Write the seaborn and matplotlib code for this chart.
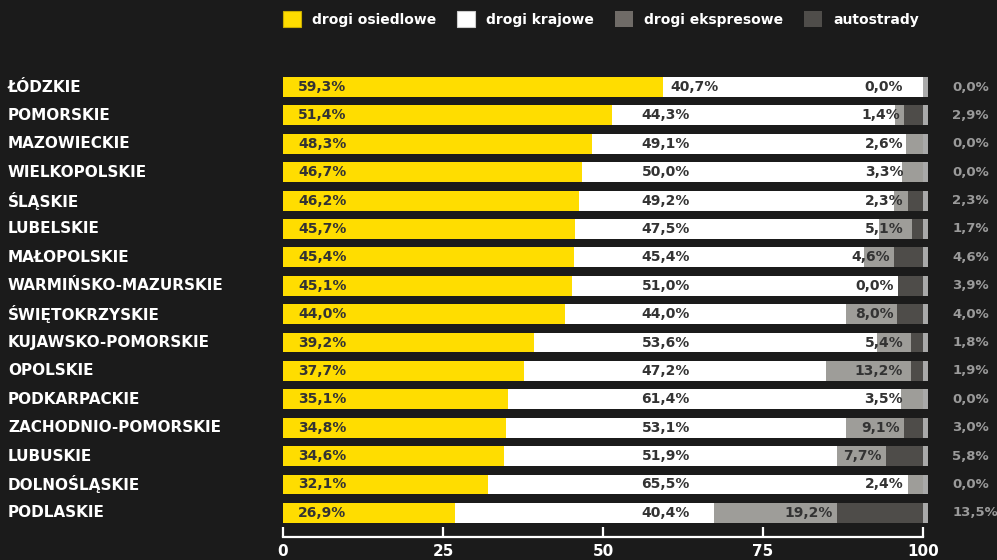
import numpy as np
import pandas as pd
import matplotlib
matplotlib.use("Agg")
import matplotlib.pyplot as plt
import matplotlib.transforms as mtransforms
from matplotlib.patches import Patch
import seaborn as sns

# dane
regions = ["ŁÓDZKIE", "POMORSKIE", "MAZOWIECKIE", "WIELKOPOLSKIE", "ŚLĄSKIE",
           "LUBELSKIE", "MAŁOPOLSKIE", "WARMIŃSKO-MAZURSKIE", "ŚWIĘTOKRZYSKIE",
           "KUJAWSKO-POMORSKIE", "OPOLSKIE", "PODKARPACKIE", "ZACHODNIO-POMORSKIE",
           "LUBUSKIE", "DOLNOŚLĄSKIE", "PODLASKIE"]
osiedlowe = [59.3, 51.4, 48.3, 46.7, 46.2, 45.7, 45.4, 45.1, 44.0, 39.2, 37.7, 35.1, 34.8, 34.6, 32.1, 26.9]
krajowe = [40.7, 44.3, 49.1, 50.0, 49.2, 47.5, 45.4, 51.0, 44.0, 53.6, 47.2, 61.4, 53.1, 51.9, 65.5, 40.4]
ekspresowe = [0.0, 1.4, 2.6, 3.3, 2.3, 5.1, 4.6, 0.0, 8.0, 5.4, 13.2, 3.5, 9.1, 7.7, 2.4, 19.2]
autostrady = [0.0, 2.9, 0.0, 0.0, 2.3, 1.7, 4.6, 3.9, 4.0, 1.8, 1.9, 0.0, 3.0, 5.8, 0.0, 13.5]
series_names = ["drogi osiedlowe", "drogi krajowe", "drogi ekspresowe", "autostrady"]
xticks = [0, 25, 50, 75, 100]

BG = "#1b1b1b"
YELLOW = "#ffdd00"
WHITE = "#ffffff"
EXPR = "#9e9d99"
AUTO = "#4e4c49"
CAP = "#a9a9a9"
DARK = "#333333"

df = pd.DataFrame({"region": regions, "osiedlowe": osiedlowe, "krajowe": krajowe,
                   "ekspresowe": ekspresowe, "autostrady": autostrady})
df["c1"] = df["osiedlowe"]
df["c2"] = df["c1"] + df["krajowe"]
df["c3"] = df["c2"] + df["ekspresowe"]
df["c4"] = df["c3"] + df["autostrady"]

plt.rcParams["font.family"] = ["DejaVu Sans"]
fig = plt.figure(figsize=(9.97, 5.6), dpi=100, facecolor=BG)
ax = fig.add_axes([283 / 997, 23 / 560, 640 / 997, 467 / 560])
ax.set_facecolor(BG)

bw = 0.70
# warstwy od najdłuższej (skumulowane)
sns.barplot(data=df, x=df["c4"] + 0.8, y="region", orient="h", color=CAP, width=bw, saturation=1, ax=ax)
sns.barplot(data=df, x="c4", y="region", orient="h", color=AUTO, width=bw, saturation=1, ax=ax)
sns.barplot(data=df, x="c3", y="region", orient="h", color=EXPR, width=bw, saturation=1, ax=ax)
sns.barplot(data=df, x="c2", y="region", orient="h", color=WHITE, width=bw, saturation=1, ax=ax)
sns.barplot(data=df, x="c1", y="region", orient="h", color=YELLOW, width=bw, saturation=1, ax=ax)
for p in ax.patches:
    p.set_clip_on(False)

ax.set_xlim(0, 100)
ax.set_ylim(15.85, -0.6)
ax.set_xlabel("")
ax.set_ylabel("")
ax.set_yticks([])
for s in ["top", "right", "left"]:
    ax.spines[s].set_visible(False)
ax.spines["bottom"].set_color("white")
ax.spines["bottom"].set_linewidth(1.6)
ax.spines["bottom"].set_bounds(0, 100)
ax.set_xticks(xticks)
ax.tick_params(axis="x", direction="in", length=7, width=1.6, colors="white", pad=5,
               labelsize=11)
for t in ax.get_xticklabels():
    t.set_fontweight("bold")

fmt = lambda v: f"{v:.1f}%".replace(".", ",")
lab_tr = mtransforms.blended_transform_factory(fig.transFigure, ax.transData)
for i, r in df.iterrows():
    ax.text(8 / 997, i, r["region"], transform=lab_tr, ha="left", va="center",
            color="white", fontsize=11, fontweight="bold")
    ax.text(2.4, i, fmt(r["osiedlowe"]), ha="left", va="center", color=DARK,
            fontsize=10, fontweight="bold")
    ax.text(max(56, r["c1"] + 1.2), i, fmt(r["krajowe"]), ha="left", va="center",
            color=DARK, fontsize=10, fontweight="bold")
    ax.text(min(r["c3"], 97.5) - 0.6, i, fmt(r["ekspresowe"]), ha="right", va="center",
            color=DARK, fontsize=10, fontweight="bold")
    ax.text(104.6, i, fmt(r["autostrady"]), ha="left", va="center", color="#9a9a9a",
            fontsize=9.5, fontweight="bold", clip_on=False)

handles = [Patch(facecolor=YELLOW, edgecolor="#c9ad00", linewidth=0.8),
           Patch(facecolor=WHITE, edgecolor="#cccccc", linewidth=0.8),
           Patch(facecolor="#6f6b67"),
           Patch(facecolor="#4f4d4a")]
leg = fig.legend(handles, series_names, loc="center left", bbox_to_anchor=(270 / 997, 1 - 19 / 560),
                 ncol=4, frameon=False, handlelength=1.3, handleheight=1.3,
                 handletextpad=0.8, columnspacing=1.5,
                 prop={"weight": "bold", "size": 10})
for t in leg.get_texts():
    t.set_color("white")

fig.savefig("out.png", dpi=100, facecolor=BG)
